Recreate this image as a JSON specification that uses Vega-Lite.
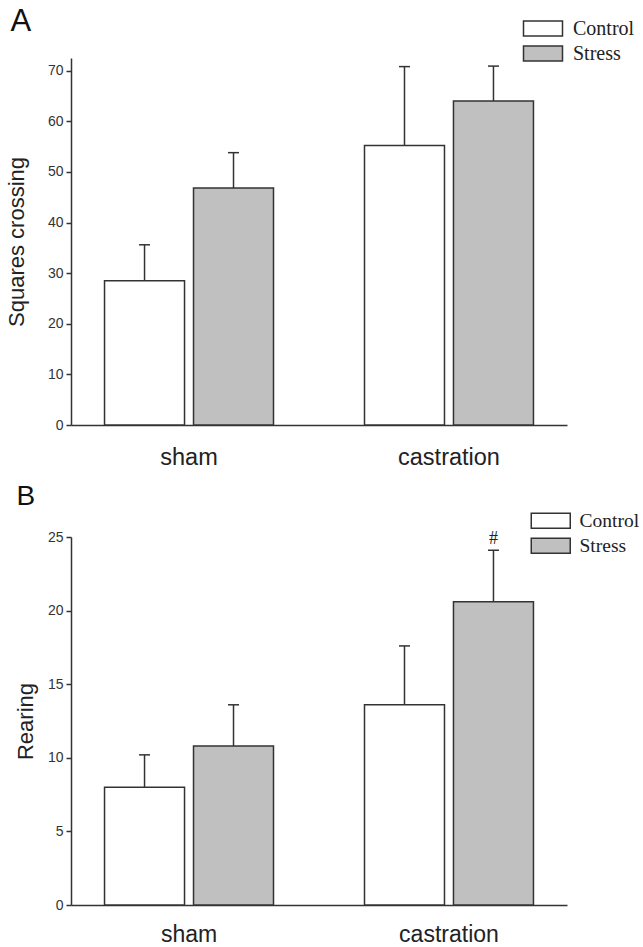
{
  "$schema": "https://vega.github.io/schema/vega-lite/v6.json",
  "background": "white",
  "padding": {"left": 5, "top": 6, "right": 0, "bottom": 0},
  "spacing": 112,
  "bounds": "flush",
  "config": {
    "view": {"stroke": null},
    "font": "Liberation Sans",
    "axis": {"domainColor": "#333", "domainWidth": 1.5, "tickColor": "#333", "tickWidth": 1.5, "labelColor": "#333", "titleColor": "#222", "grid": false, "labelFont": "Liberation Sans", "titleFont": "Liberation Sans", "titleFontWeight": "normal"},
    "legend": {"labelFont": "Liberation Serif"}
  },
  "datasets": {
    "crossing": [
      {"group": "sham", "treatment": "Control", "mean": 28.5, "upper": 35.6},
      {"group": "sham", "treatment": "Stress", "mean": 46.8, "upper": 53.8},
      {"group": "castration", "treatment": "Control", "mean": 55.2, "upper": 70.8},
      {"group": "castration", "treatment": "Stress", "mean": 64.0, "upper": 70.9}
    ],
    "rearing": [
      {"group": "sham", "treatment": "Control", "mean": 8.0, "upper": 10.2},
      {"group": "sham", "treatment": "Stress", "mean": 10.8, "upper": 13.6},
      {"group": "castration", "treatment": "Control", "mean": 13.6, "upper": 17.6},
      {"group": "castration", "treatment": "Stress", "mean": 20.6, "upper": 24.1, "sig": "#"}
    ]
  },
  "resolve": {"scale": {"fill": "independent", "y": "independent", "x": "independent"}, "legend": {"fill": "independent"}},
  "vconcat": [
    {
      "width": 496,
      "height": 367,
      "title": {"text": "A", "anchor": "start", "frame": "bounds", "font": "Liberation Sans", "fontSize": 31, "fontWeight": "normal", "color": "#111", "offset": -19.5, "dx": 5},
      "data": {"name": "crossing"},
      "encoding": {
        "x": {"field": "group", "type": "nominal", "sort": ["sham", "castration"], "scale": {"paddingInner": 0.35, "paddingOuter": 0.129}, "axis": {"title": null, "ticks": false, "labelAngle": 0, "labelPadding": 20, "labelFontSize": 23.5, "labelColor": "#222"}},
        "xOffset": {"field": "treatment", "type": "nominal", "sort": ["Control", "Stress"], "scale": {"paddingInner": 0.101, "paddingOuter": 0}}
      },
      "layer": [
        {
          "mark": {"type": "bar", "stroke": "#333", "strokeWidth": 1.5},
          "encoding": {
            "y": {"field": "mean", "type": "quantitative", "scale": {"domain": [0, 72.5], "nice": false}, "axis": {"title": "Squares crossing", "titleFontSize": 22, "titlePadding": 19, "values": [0, 10, 20, 30, 40, 50, 60, 70], "tickSize": 5, "labelPadding": 3, "labelFontSize": 14}},
            "fill": {"field": "treatment", "type": "nominal", "scale": {"domain": ["Control", "Stress"], "range": ["#ffffff", "#c0c0c0"]}, "legend": {"title": null, "orient": "none", "legendX": 462, "legendY": -39.5, "padding": 0, "symbolType": "M-2.6,-1H2.6V1H-2.6Z", "symbolSize": 225, "symbolStrokeColor": "#333", "symbolStrokeWidth": 1.5, "symbolOpacity": 1, "labelFontSize": 20, "labelColor": "#222", "labelOffset": 20, "rowPadding": 3}}
          }
        },
        {
          "mark": {"type": "rule", "stroke": "#333", "strokeWidth": 1.5},
          "encoding": {"y": {"field": "mean", "type": "quantitative"}, "y2": {"field": "upper"}}
        },
        {
          "mark": {"type": "tick", "orient": "horizontal", "size": 11, "thickness": 1.5, "color": "#333", "opacity": 1},
          "encoding": {"y": {"field": "upper", "type": "quantitative"}}
        }
      ]
    },
    {
      "width": 496,
      "height": 368,
      "title": {"text": "B", "anchor": "start", "frame": "bounds", "font": "Liberation Sans", "fontSize": 28, "fontWeight": "normal", "color": "#111", "offset": 0, "dx": 2},
      "data": {"name": "rearing"},
      "encoding": {
        "x": {"field": "group", "type": "nominal", "sort": ["sham", "castration"], "scale": {"paddingInner": 0.35, "paddingOuter": 0.129}, "axis": {"title": null, "ticks": false, "labelAngle": 0, "labelPadding": 18, "labelFontSize": 23, "labelColor": "#222"}},
        "xOffset": {"field": "treatment", "type": "nominal", "sort": ["Control", "Stress"], "scale": {"paddingInner": 0.101, "paddingOuter": 0}}
      },
      "layer": [
        {
          "mark": {"type": "bar", "stroke": "#333", "strokeWidth": 1.5},
          "encoding": {
            "y": {"field": "mean", "type": "quantitative", "scale": {"domain": [0, 25], "nice": false}, "axis": {"title": "Rearing", "titleFontSize": 22, "titlePadding": 10, "values": [0, 5, 10, 15, 20, 25], "tickSize": 5, "labelPadding": 3, "labelFontSize": 14}},
            "fill": {"field": "treatment", "type": "nominal", "scale": {"domain": ["Control", "Stress"], "range": ["#ffffff", "#c0c0c0"]}, "legend": {"title": null, "orient": "none", "legendX": 470, "legendY": -26, "padding": 0, "symbolType": "M-2.6,-1H2.6V1H-2.6Z", "symbolSize": 225, "symbolStrokeColor": "#333", "symbolStrokeWidth": 1.5, "symbolOpacity": 1, "labelFontSize": 19.5, "labelColor": "#222", "labelOffset": 19, "rowPadding": 3}}
          }
        },
        {
          "mark": {"type": "rule", "stroke": "#333", "strokeWidth": 1.5},
          "encoding": {"y": {"field": "mean", "type": "quantitative"}, "y2": {"field": "upper"}}
        },
        {
          "mark": {"type": "tick", "orient": "horizontal", "size": 11, "thickness": 1.5, "color": "#333", "opacity": 1},
          "encoding": {"y": {"field": "upper", "type": "quantitative"}}
        },
        {
          "transform": [{"filter": "isValid(datum.sig)"}],
          "mark": {"type": "text", "font": "Liberation Serif", "fontSize": 18, "color": "#222", "baseline": "bottom", "dy": -2},
          "encoding": {"y": {"field": "upper", "type": "quantitative"}, "text": {"field": "sig"}}
        }
      ]
    }
  ]
}
